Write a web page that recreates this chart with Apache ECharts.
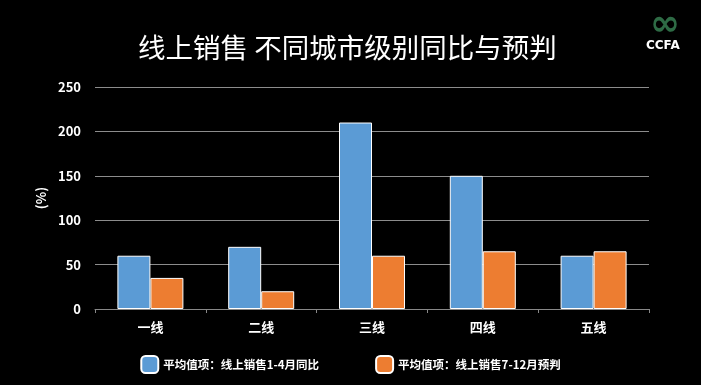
<!DOCTYPE html>
<html><head><meta charset="utf-8">
<script src="https://cdn.jsdelivr.net/npm/echarts@6/dist/echarts.min.js"></script>
<style>html,body{margin:0;padding:0;background:#000;}#c{width:701px;height:385px;}</style>
</head><body><div id="c"></div>
<script>
var categories = ['一线','二线','三线','四线','五线'];
var series1Name = '平均值项：线上销售1-4月同比';
var series2Name = '平均值项：线上销售7-12月预判';
var series1 = [60, 70, 210, 150, 60];
var series2 = [35, 20, 60, 65, 65];
var yTicks = [0, 50, 100, 150, 200, 250];

var font = '"Noto Sans CJK SC", "Noto Sans", sans-serif';
var chart = echarts.init(document.getElementById('c'));
chart.setOption({
  backgroundColor: '#000',
  animation: false,
  title: {
    text: '线上销售 不同城市级别同比与预判',
    left: 133, top: 29,
    textStyle: {color: '#fff', fontSize: 27.5, fontWeight: 'normal', fontFamily: font}
  },
  legend: {
    bottom: 6, left: 'center', itemGap: 56, itemWidth: 17, itemHeight: 17,
    textStyle: {color: '#fff', fontSize: 11.5, fontWeight: 'bold', fontFamily: font},
    data: [series1Name, series2Name]
  },
  grid: {left: 95, right: 52, top: 87, bottom: 76},
  xAxis: {
    type: 'category', data: categories,
    axisLine: {lineStyle: {color: '#888'}},
    axisTick: {show: true, lineStyle: {color: '#888'}, length: 4},
    axisLabel: {color: '#fff', fontSize: 13, fontWeight: 'bold', fontFamily: font, margin: 12}
  },
  yAxis: {
    type: 'value', min: yTicks[0], max: yTicks[yTicks.length-1], interval: 50,
    name: '(%)', nameLocation: 'middle', nameGap: 33, nameRotate: 90,
    nameTextStyle: {color: '#fff', fontSize: 13, fontWeight: 'bold', fontFamily: font},
    axisLine: {show: false}, axisTick: {show: false},
    splitLine: {lineStyle: {color: '#8c8c8c', width: 1}},
    axisLabel: {color: '#fff', fontSize: 13, fontWeight: 'bold', fontFamily: font, margin: 14}
  },
  series: [
    {name: series1Name, type: 'bar', data: series1, barWidth: 33, barGap: '0%',
     itemStyle: {color: '#5B9BD5', borderColor: '#fff', borderWidth: 1}},
    {name: series2Name, type: 'bar', data: series2, barWidth: 33, barGap: '0%',
     itemStyle: {color: '#ED7D31', borderColor: '#fff', borderWidth: 1}}
  ],
  graphic: [
    {type: 'text', left: 646, top: 40, style: {text: 'CCFA', fill: '#fff', font: 'bold 12px "DejaVu Sans", sans-serif'}},
    {type: 'text', left: 650, top: 8, style: {text: '∞', fill: '#2e6b45', font: 'bold 36px "DejaVu Sans", sans-serif'}}
  ]
});
</script></body></html>
